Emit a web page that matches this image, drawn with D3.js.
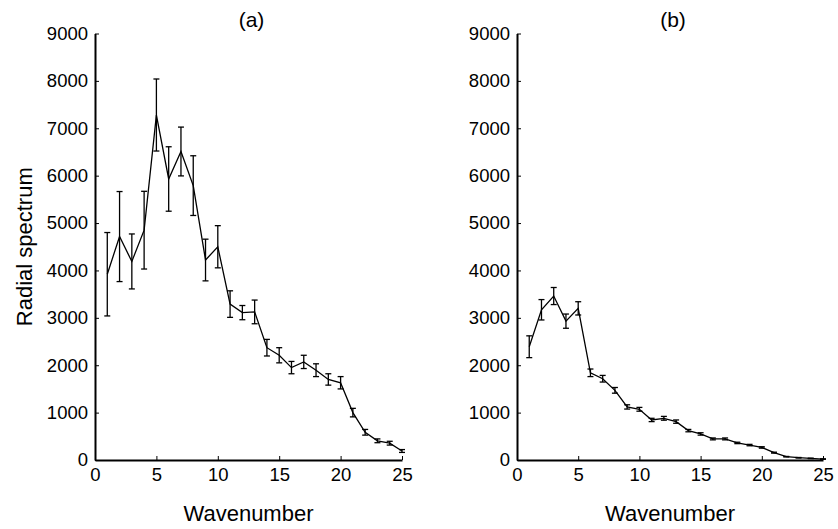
<!DOCTYPE html>
<html><head><meta charset="utf-8">
<script src="https://cdn.jsdelivr.net/npm/d3@7"></script>
<style>
body{margin:0;background:#fff;}
svg{display:block;font-family:"Liberation Sans",Arial,sans-serif;}
</style></head>
<body><svg id="c" width="838" height="529"></svg>
<script>
const wavenumbers = d3.range(1, 26);
const meanA = [3920,4715,4190,4850,7280,5930,6510,5790,4220,4500,3290,3110,3125,2370,2210,1950,2070,1895,1700,1630,1000,585,405,355,190];
const errA  = [880,950,580,820,760,680,515,630,440,445,280,150,250,175,160,130,140,135,120,130,90,60,40,40,30];
const meanB = [2390,3170,3460,2930,3200,1840,1715,1470,1120,1070,845,880,810,620,550,445,445,360,315,265,155,70,48,34,20];
const errB  = [230,215,180,150,140,80,70,60,45,40,35,40,35,25,25,20,20,15,15,15,10,5,5,5,5];
const yTicks = [0,1000,2000,3000,4000,5000,6000,7000,8000,9000];
const xTicks = [0,5,10,15,20,25];
const titles = ["(a)","(b)"];

const svg = d3.select("#c");
const panels = [
  {x0:95, x1:402, mean:meanA, err:errA, title:titles[0], ylabel:true},
  {x0:517, x1:823, mean:meanB, err:errB, title:titles[1], ylabel:false}
];
const yTop = 33.5, yBot = 460;

panels.forEach(p => {
  const x = d3.scaleLinear().domain([0,25]).range([p.x0, p.x1]);
  const y = d3.scaleLinear().domain([0,9000]).range([yBot, yTop]);
  const g = svg.append("g");

  const xAxis = g.append("g").attr("transform", `translate(0,${yBot})`)
    .call(d3.axisBottom(x).tickValues(xTicks).tickSizeInner(-4).tickSizeOuter(0).tickPadding(8).tickFormat(d3.format("d")));
  const yAxis = g.append("g").attr("transform", `translate(${p.x0},0)`)
    .call(d3.axisLeft(y).tickValues(yTicks).tickSizeInner(-4).tickSizeOuter(0).tickPadding(7).tickFormat(d3.format("d")));
  [xAxis, yAxis].forEach(a => {
    a.select(".domain").attr("stroke","#000").attr("stroke-width",2);
    a.selectAll(".tick line").attr("stroke","#000").attr("stroke-width",1);
    a.selectAll(".tick text").attr("fill","#000").style("font-size","18.5px");
    a.attr("font-family",null).attr("font-size",null);
  });

  // line
  const line = d3.line().x((d,i) => x(wavenumbers[i])).y(d => y(d));
  g.append("path").datum(p.mean).attr("d", line)
    .attr("fill","none").attr("stroke","#000").attr("stroke-width",1.3);

  // error bars
  const eb = g.append("g").attr("stroke","#000").attr("stroke-width",1.3);
  p.mean.forEach((m,i) => {
    const xc = x(wavenumbers[i]), lo = y(m - p.err[i]), hi = y(m + p.err[i]);
    eb.append("line").attr("x1",xc).attr("x2",xc).attr("y1",lo).attr("y2",hi);
    eb.append("line").attr("x1",xc-3).attr("x2",xc+3).attr("y1",lo).attr("y2",lo);
    eb.append("line").attr("x1",xc-3).attr("x2",xc+3).attr("y1",hi).attr("y2",hi);
  });

  g.append("text").attr("x",(p.x0+p.x1)/2 + 3).attr("y",27).attr("text-anchor","middle")
    .style("font-size","21px").text(p.title);
  g.append("text").attr("x",(p.x0+p.x1)/2).attr("y",521).attr("text-anchor","middle")
    .style("font-size","22px").text("Wavenumber");
  if (p.ylabel) {
    g.append("text").attr("transform",`translate(32,${(yTop+yBot)/2}) rotate(-90)`)
      .attr("text-anchor","middle").style("font-size","22px").text("Radial spectrum");
  }
});
</script></body></html>
